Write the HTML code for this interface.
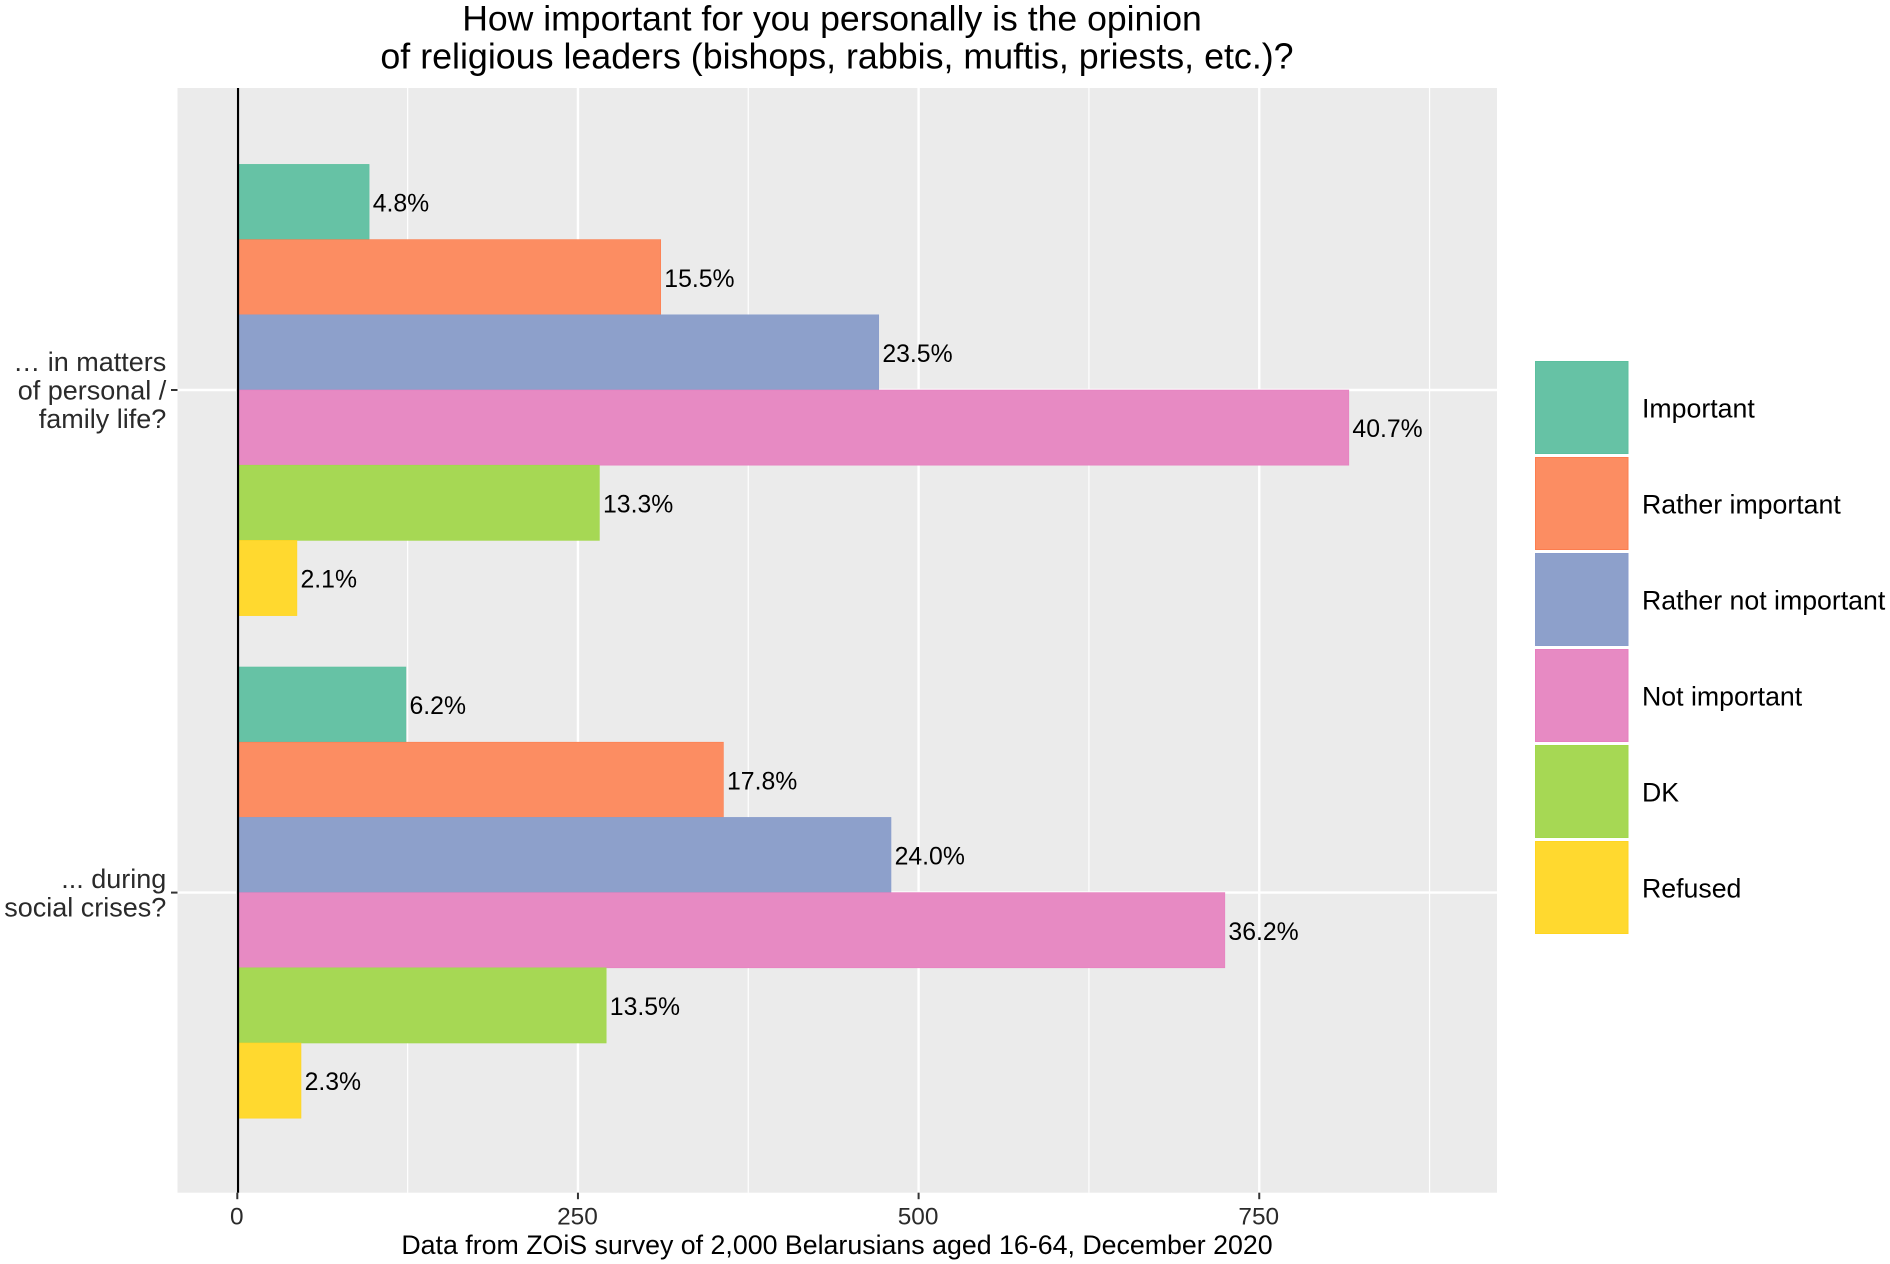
<!DOCTYPE html>
<html lang="en">
<head>
<meta charset="utf-8">
<title>Opinion of religious leaders</title>
<style>
html,body{margin:0;padding:0;background:#fff;}
svg{display:block;font-family:"Liberation Sans",Arial,sans-serif;}
</style>
</head>
<body>
<svg id="chart" xmlns="http://www.w3.org/2000/svg" width="1890" height="1264" viewBox="0 0 1890 1264"></svg>
<script>
const categories = [["\u2026 in matters", "of personal /", "family life?"], ["... during", "social crises?"]];
const seriesNames = ["Important", "Rather important", "Rather not important", "Not important", "DK", "Refused"];
const seriesColors = ["#66c2a5", "#fc8d62", "#8da0cb", "#e78ac3", "#a6d854", "#ffd92f"];
const seriesStrokes = ["#5cc09f", "#fc7d4e", "#8a9dcc", "#e77fbf", "#a2d84c", "#ffd520"];
const countsPersonal = [96, 310, 470, 815, 265, 43];
const countsCrises = [123, 356, 479, 724, 270, 46];
const labelsPersonal = ["4.8%", "15.5%", "23.5%", "40.7%", "13.3%", "2.1%"];
const labelsCrises = ["6.2%", "17.8%", "24.0%", "36.2%", "13.5%", "2.3%"];
const xTickValues = [0, 250, 500, 750];
const xMinorValues = [125, 375, 625, 875];
const titleLines = ["How important for you personally is the opinion", "of religious leaders (bishops, rabbis, muftis, priests, etc.)?"];
const captionText = "Data from ZOiS survey of 2,000 Belarusians aged 16-64, December 2020";

const NS = "http://www.w3.org/2000/svg";
const svg = document.getElementById("chart");
const panel = {left: 177.5, right: 1497, top: 88, bottom: 1192.7};
const xScale = v => 237.3 + v * 1.3626;
const yCenter = i => 390 + i * 502.6;
const barH = 75.2;
const barTop = (g, s) => yCenter(g) - 3 * barH + s * barH;

function make(tag, attrs, text) {
  const el = document.createElementNS(NS, tag);
  for (const k in attrs) el.setAttribute(k, attrs[k]);
  if (text !== undefined) el.textContent = text;
  svg.appendChild(el);
  return el;
}

const panelRect = make("rect", {x: panel.left, y: panel.top, width: panel.right - panel.left, height: panel.bottom - panel.top, fill: "#ebebeb"});



xMinorValues.forEach(v => {
  const l = make("line", {x1: xScale(v), x2: xScale(v), y1: panel.top, y2: panel.bottom, stroke: "#fff", "stroke-width": 1.2});
  
  
});
xTickValues.forEach(v => {
  const l = make("line", {x1: xScale(v), x2: xScale(v), y1: panel.top, y2: panel.bottom, stroke: "#fff", "stroke-width": 2.4});
  
  
});
categories.forEach((c, i) => {
  const l = make("line", {x1: panel.left, x2: panel.right, y1: yCenter(i), y2: yCenter(i), stroke: "#fff", "stroke-width": 2.4});
  
  
});

[countsPersonal, countsCrises].forEach((counts, g) => {
  const labels = g === 0 ? labelsPersonal : labelsCrises;
  counts.forEach((n, s) => {
    const y = barTop(g, s);
    const bar = make("rect", {x: xScale(0) + 1, y: y, width: xScale(n) - xScale(0), height: barH, fill: seriesColors[s], stroke: seriesStrokes[s], "stroke-width": 0.6});
    
    
    const t = make("text", {x: xScale(n) + 4.6, y: y + barH / 2 + 9.6, "font-size": 24.8, fill: "#000"}, labels[s]);
    
    
  });
});

const zero = make("line", {x1: 238, x2: 238, y1: panel.top, y2: panel.bottom, stroke: "#000", "stroke-width": 2.2});



xTickValues.forEach(v => {
  const tick = make("line", {x1: xScale(v), x2: xScale(v), y1: panel.bottom, y2: panel.bottom + 6.5, stroke: "#333", "stroke-width": 2});
  
  
  const t = make("text", {x: xScale(v) - 0.5, y: 1224.3, "font-size": 24.4, fill: "#2a2a2a", "text-anchor": "middle"}, String(v));
  
  
});

categories.forEach((lines, i) => {
  const tick = make("line", {x1: panel.left - 6.5, x2: panel.left, y1: yCenter(i), y2: yCenter(i), stroke: "#333", "stroke-width": 2});
  
  
  const lh = 28.6;
  const start = yCenter(i) - (lines.length - 1) * lh / 2 + 9.6;
  lines.forEach((line, k) => {
    const t = make("text", {x: 166.3, y: start + k * lh, "font-size": 27, fill: "#2a2a2a", "text-anchor": "end"}, line);
    
    
  });
});

seriesNames.forEach((name, s) => {
  const y = 361.5 + s * 96;
  const key = make("rect", {x: 1535.5, y: y, width: 92.5, height: 92, fill: seriesColors[s], stroke: seriesStrokes[s], "stroke-width": 1});
  
  
  const t = make("text", {x: 1642, y: y + 56, "font-size": 26.7, fill: "#000"}, name);
  
  
});

titleLines.forEach((line, k) => {
  const t = make("text", {x: k === 0 ? 832 : 837, y: 30.5 + k * 38, "font-size": k === 0 ? 35.6 : 35.8, fill: "#000", "text-anchor": "middle"}, line);
  
  
});

const caption = make("text", {x: 837, y: 1254, "font-size": 26.75, fill: "#000", "text-anchor": "middle"}, captionText);


</script>
</body>
</html>
